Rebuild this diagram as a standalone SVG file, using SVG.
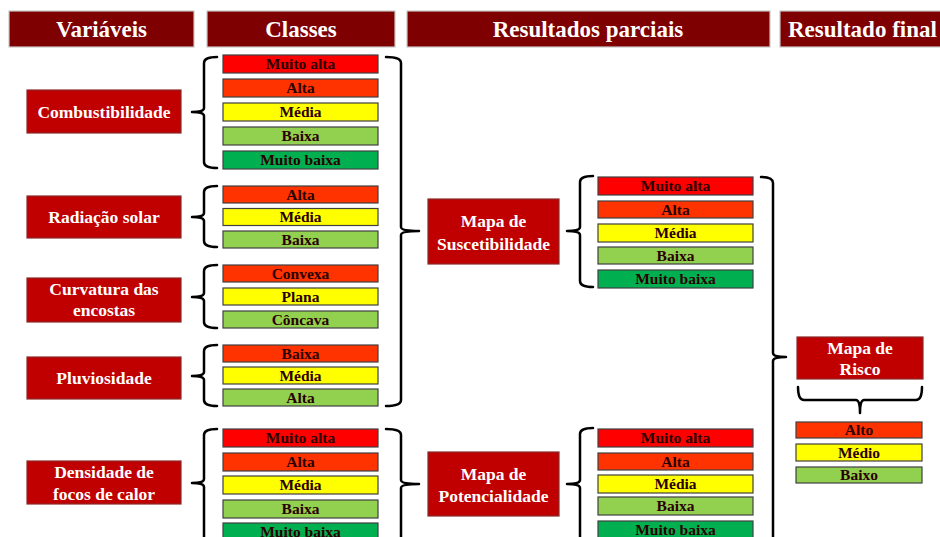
<svg xmlns="http://www.w3.org/2000/svg" width="940" height="537" viewBox="0 0 940 537">
<style>
.hdr{fill:#7f0000;stroke:#c8c8c8;stroke-width:1.2}
.ht{font-family:"Liberation Serif","Times New Roman",serif;font-weight:bold;font-size:23px;fill:#ffffff;text-anchor:middle}
.var{fill:#c00000;stroke:#8a2a2a;stroke-width:1.2}
.vt{font-family:"Liberation Serif","Times New Roman",serif;font-weight:bold;font-size:17.5px;fill:#ffffff;text-anchor:middle}
.c{stroke:#404040;stroke-width:1.2}
.ct{font-family:"Liberation Serif","Times New Roman",serif;font-weight:bold;font-size:15.5px;fill:#2a0000;text-anchor:middle}
.ma{fill:#ff0000}.al{fill:#ff3300}.me{fill:#ffff00}.ba{fill:#92d050}.mb{fill:#00b050}
.br{fill:none;stroke:#000000;stroke-width:2.5;stroke-linejoin:round;stroke-linecap:round}
</style>
<rect width="940" height="537" fill="#ffffff"/>

<g id="headers">
<rect class="hdr" x="9" y="11" width="185" height="36"/>
<text class="ht" x="101.5" y="37">Variáveis</text>
<rect class="hdr" x="207" y="11" width="188" height="36"/>
<text class="ht" x="301" y="37">Classes</text>
<rect class="hdr" x="407" y="11" width="363" height="36"/>
<text class="ht" x="588" y="37">Resultados parciais</text>
<rect class="hdr" x="780" y="11" width="175" height="36"/>
<text class="ht" x="788" y="37" style="text-anchor:start">Resultado final</text>
</g>

<g id="connectors">
<path class="br" d="M217,57 Q204,57 204,63 L204,108 Q204,112 192,112 Q204,112 204,116 L204,162 Q204,168 217,168"/>
<path class="br" d="M217,186 Q204,186 204,192 L204,213 Q204,217 192,217 Q204,217 204,221 L204,241 Q204,247 217,247"/>
<path class="br" d="M217,265 Q204,265 204,271 L204,293 Q204,297 192,297 Q204,297 204,301 L204,322 Q204,328 217,328"/>
<path class="br" d="M217,345 Q204,345 204,351 L204,372 Q204,376 192,376 Q204,376 204,380 L204,400 Q204,406 217,406"/>
<path class="br" d="M217,429 Q204,429 204,435 L204,479 Q204,483 192,483 Q204,483 204,487 L204,545"/>
<path class="br" d="M386,57 Q401,57 401,63 L401,227 Q401,231 419,231 Q401,231 401,235 L401,400 Q401,406 386,406"/>
<path class="br" d="M386,429 Q401,429 401,435 L401,480 Q401,484 419,484 Q401,484 401,488 L401,545"/>
<path class="br" d="M593,176 Q580,176 580,182 L580,227 Q580,231 567,231 Q580,231 580,235 L580,281 Q580,287 593,287"/>
<path class="br" d="M593,428 Q580,428 580,434 L580,480 Q580,484 567,484 Q580,484 580,488 L580,545"/>
<path class="br" d="M761,177 Q773,177 773,183 L773,353 Q773,357 786,357 Q773,357 773,361 L773,545"/>
<path class="br" d="M798,387 Q798,400 804,400 L856,400 Q860,400 860,413 Q860,400 864,400 L916,400 Q922,400 922,387"/>
</g>

<g id="var-combustibilidade">
<rect class="var" x="27" y="90" width="154" height="43"/>
<text class="vt" x="104" y="118">Combustibilidade</text>
</g>
<g id="var-radiacao">
<rect class="var" x="27" y="196" width="154" height="42"/>
<text class="vt" x="104" y="223">Radiação solar</text>
</g>
<g id="var-curvatura">
<rect class="var" x="27" y="278" width="154" height="44"/>
<text class="vt" x="104" y="295">Curvatura das</text>
<text class="vt" x="104" y="316">encostas</text>
</g>
<g id="var-pluviosidade">
<rect class="var" x="27" y="357" width="154" height="42"/>
<text class="vt" x="104" y="384">Pluviosidade</text>
</g>
<g id="var-densidade">
<rect class="var" x="27" y="461" width="154" height="43"/>
<text class="vt" x="104" y="478">Densidade de</text>
<text class="vt" x="104" y="500">focos de calor</text>
</g>

<g id="classes-combustibilidade">
<rect class="c ma" x="223" y="55" width="155" height="18"/><text class="ct" x="300.5" y="69">Muito alta</text>
<rect class="c al" x="223" y="79" width="155" height="18"/><text class="ct" x="300.5" y="93">Alta</text>
<rect class="c me" x="223" y="103" width="155" height="18"/><text class="ct" x="300.5" y="117">Média</text>
<rect class="c ba" x="223" y="127" width="155" height="18"/><text class="ct" x="300.5" y="141">Baixa</text>
<rect class="c mb" x="223" y="151" width="155" height="18"/><text class="ct" x="300.5" y="165">Muito baixa</text>
</g>
<g id="classes-radiacao">
<rect class="c al" x="223" y="186" width="155" height="17"/><text class="ct" x="300.5" y="199.5">Alta</text>
<rect class="c me" x="223" y="208.5" width="155" height="17"/><text class="ct" x="300.5" y="222">Média</text>
<rect class="c ba" x="223" y="231" width="155" height="17"/><text class="ct" x="300.5" y="244.5">Baixa</text>
</g>
<g id="classes-curvatura">
<rect class="c al" x="223" y="265" width="155" height="17"/><text class="ct" x="300.5" y="278.5">Convexa</text>
<rect class="c me" x="223" y="288" width="155" height="17"/><text class="ct" x="300.5" y="301.5">Plana</text>
<rect class="c ba" x="223" y="311" width="155" height="17"/><text class="ct" x="300.5" y="324.5">Côncava</text>
</g>
<g id="classes-pluviosidade">
<rect class="c al" x="223" y="345" width="155" height="17"/><text class="ct" x="300.5" y="358.5">Baixa</text>
<rect class="c me" x="223" y="367" width="155" height="17"/><text class="ct" x="300.5" y="380.5">Média</text>
<rect class="c ba" x="223" y="389" width="155" height="17"/><text class="ct" x="300.5" y="402.5">Alta</text>
</g>
<g id="classes-densidade">
<rect class="c ma" x="223" y="429" width="155" height="18"/><text class="ct" x="300.5" y="443">Muito alta</text>
<rect class="c al" x="223" y="453" width="155" height="18"/><text class="ct" x="300.5" y="467">Alta</text>
<rect class="c me" x="223" y="476" width="155" height="18"/><text class="ct" x="300.5" y="490">Média</text>
<rect class="c ba" x="223" y="500" width="155" height="18"/><text class="ct" x="300.5" y="514">Baixa</text>
<rect class="c mb" x="223" y="523" width="155" height="18"/><text class="ct" x="300.5" y="537">Muito baixa</text>
</g>

<g id="mapa-suscetibilidade">
<rect class="var" x="428" y="199" width="131" height="65"/>
<text class="vt" x="493.5" y="227">Mapa de</text>
<text class="vt" x="493.5" y="250">Suscetibilidade</text>
</g>
<g id="classes-suscetibilidade">
<rect class="c ma" x="598" y="177" width="155" height="18"/><text class="ct" x="675.5" y="191">Muito alta</text>
<rect class="c al" x="598" y="201" width="155" height="17"/><text class="ct" x="675.5" y="214.5">Alta</text>
<rect class="c me" x="598" y="224" width="155" height="18"/><text class="ct" x="675.5" y="238">Média</text>
<rect class="c ba" x="598" y="247" width="155" height="17"/><text class="ct" x="675.5" y="260.5">Baixa</text>
<rect class="c mb" x="598" y="270" width="155" height="18"/><text class="ct" x="675.5" y="284">Muito baixa</text>
</g>

<g id="mapa-potencialidade">
<rect class="var" x="428" y="452" width="131" height="64"/>
<text class="vt" x="493.5" y="480">Mapa de</text>
<text class="vt" x="493.5" y="502">Potencialidade</text>
</g>
<g id="classes-potencialidade">
<rect class="c ma" x="598" y="429" width="155" height="18"/><text class="ct" x="675.5" y="443">Muito alta</text>
<rect class="c al" x="598" y="453" width="155" height="17"/><text class="ct" x="675.5" y="466.5">Alta</text>
<rect class="c me" x="598" y="475" width="155" height="18"/><text class="ct" x="675.5" y="489">Média</text>
<rect class="c ba" x="598" y="497" width="155" height="18"/><text class="ct" x="675.5" y="511">Baixa</text>
<rect class="c mb" x="598" y="521" width="155" height="18"/><text class="ct" x="675.5" y="535">Muito baixa</text>
</g>

<g id="mapa-risco">
<rect class="var" x="797" y="337" width="126" height="42"/>
<text class="vt" x="860" y="354">Mapa de</text>
<text class="vt" x="860" y="375">Risco</text>
</g>
<g id="classes-risco">
<rect class="c al" x="796" y="422" width="126" height="16"/><text class="ct" x="859" y="435">Alto</text>
<rect class="c me" x="796" y="444" width="126" height="17"/><text class="ct" x="859" y="457.5">Médio</text>
<rect class="c ba" x="796" y="467" width="126" height="16"/><text class="ct" x="859" y="480">Baixo</text>
</g>
</svg>
